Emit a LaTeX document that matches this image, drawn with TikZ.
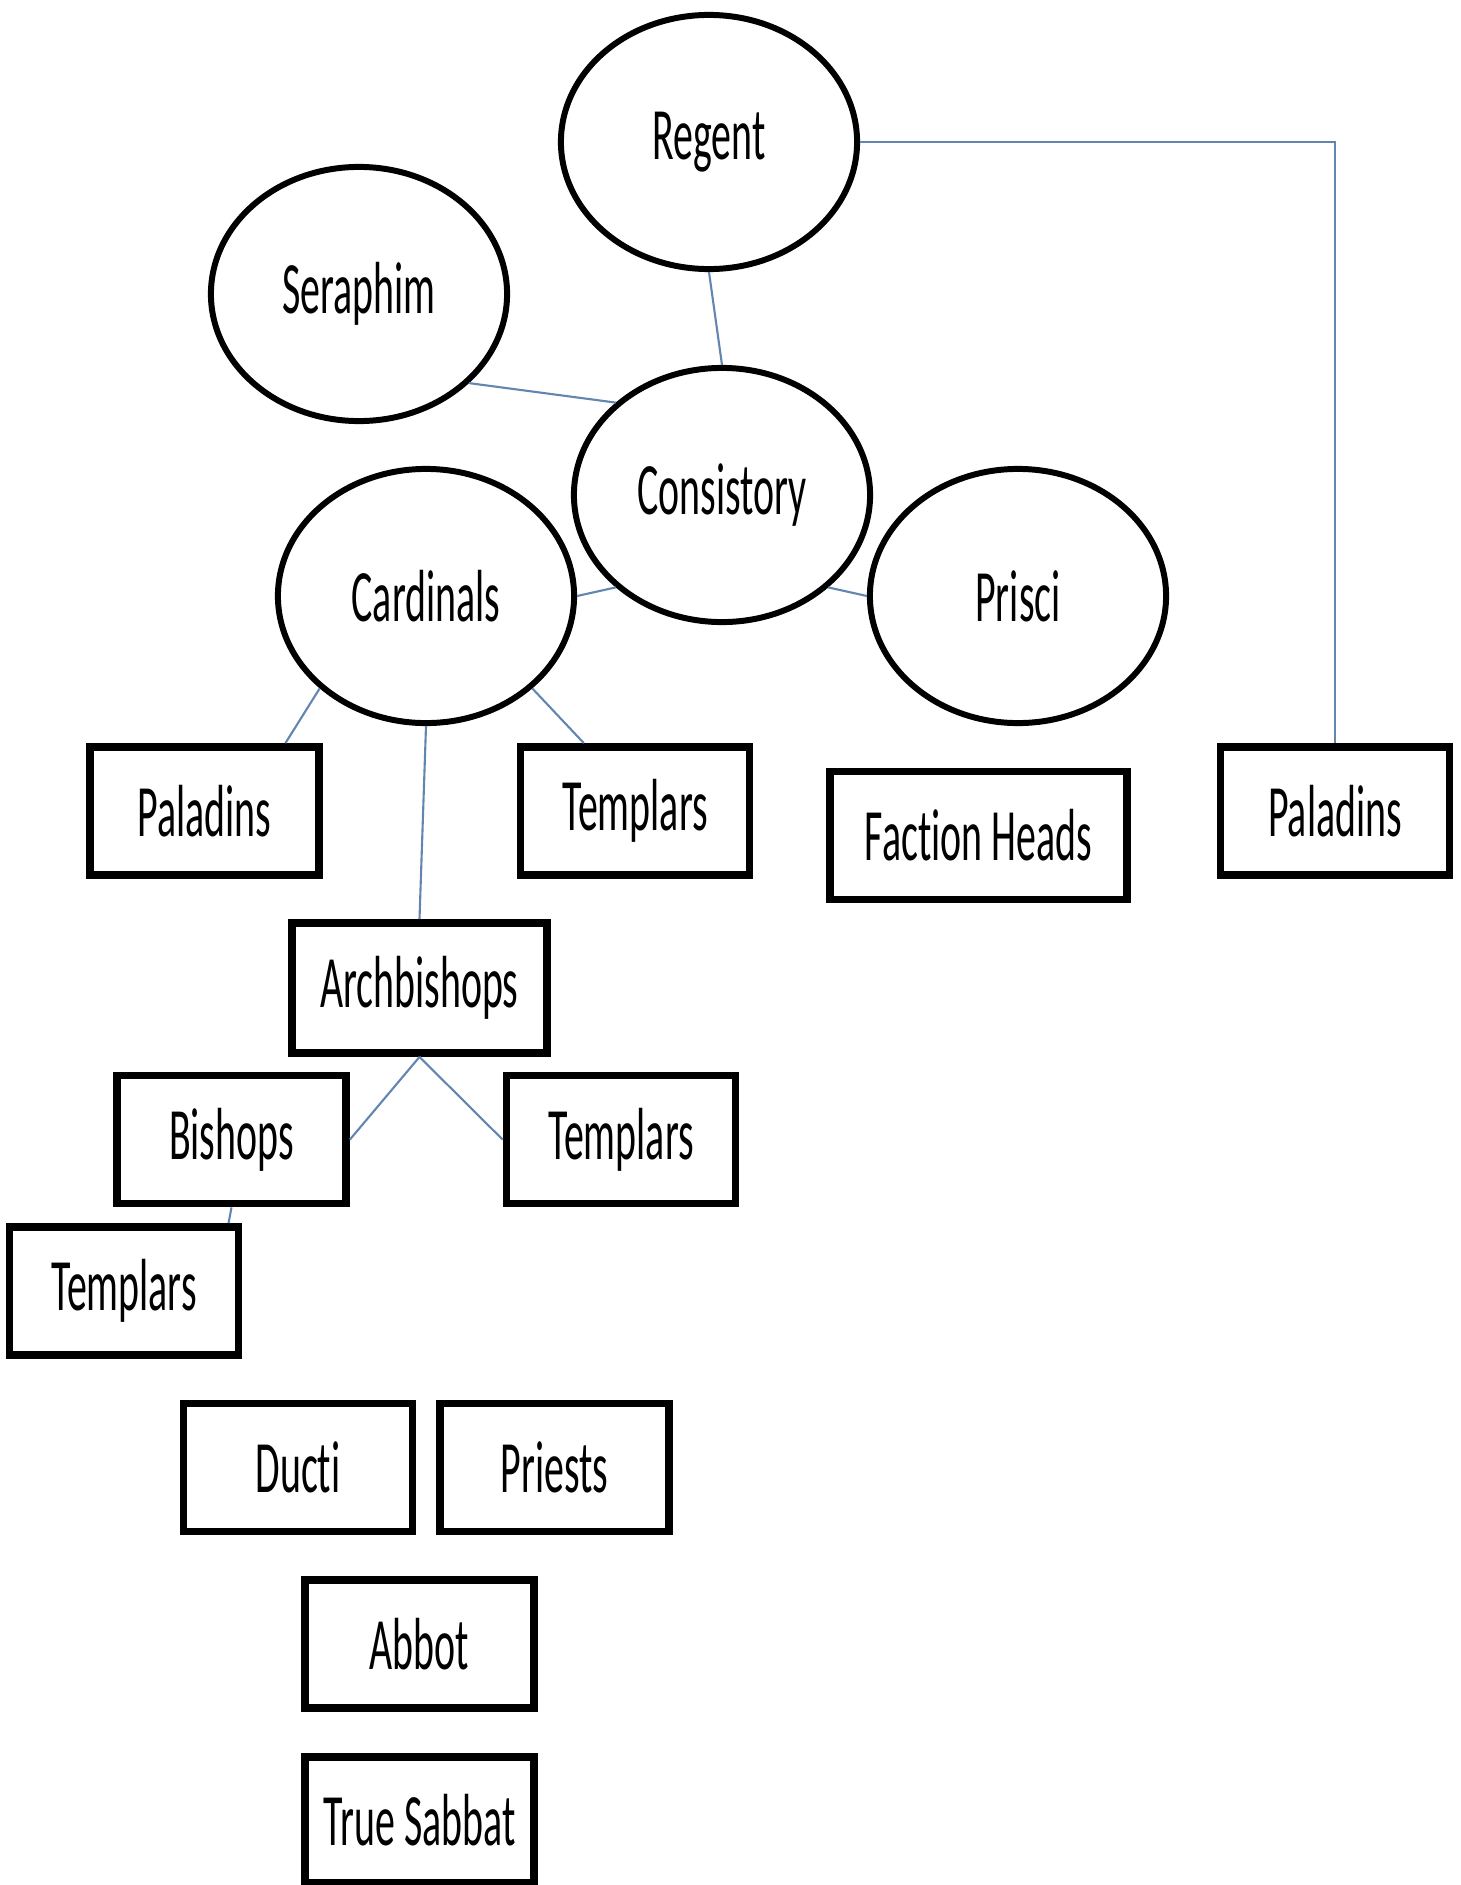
\documentclass[tikz,border=0pt]{standalone}
\usepackage{fontspec}
\usepackage{tikz}
\usetikzlibrary{shapes.geometric}
\newfontfamily\chartfont[FakeStretch=0.54, Ligatures=NoCommon]{Carlito}
\definecolor{linkblue}{RGB}{98,134,176}
\tikzset{
  circ/.style={ellipse, draw, line width=1.7pt, minimum width=2.96cm, minimum height=2.54cm, inner sep=0pt},
  rank/.style={rectangle, draw, line width=2.2pt, minimum width=2.29cm, minimum height=1.28cm, inner sep=0pt},
  link/.style={linkblue, line width=0.6pt}
}
\begin{document}
\begin{tikzpicture}[x=0.01cm, y=-0.01cm, font=\chartfont\fontsize{21}{25}\selectfont]
\useasboundingbox (0,0) rectangle (1461,1885);
\node[circ] (regent) at (709,142) {Regent};
\node[circ] (seraphim) at (359,294) {Seraphim};
\node[circ] (consist) at (722,495) {Consistory};
\node[circ] (cardinals) at (426,596) {Cardinals};
\node[circ] (prisci) at (1018,596) {Prisci};
\node[rank] (pal1) at (204.5,811) {Paladins};
\node[rank] (tmp1) at (635,811) {Templars};
\node[rank, minimum width=2.97cm] (faction) at (978.5,835.5) {Faction Heads};
\node[rank] (pal2) at (1335,811) {Paladins};
\node[rank, minimum width=2.55cm, minimum height=1.3cm] (arch) at (419.5,988) {Archbishops};
\node[rank] (bishops) at (231.5,1139.5) {Bishops};
\node[rank] (tmp2) at (621,1139.5) {Templars};
\node[rank] (tmp3) at (124,1291) {Templars};
\node[rank] (ducti) at (298,1467.5) {Ducti};
\node[rank] (priests) at (554.5,1467.5) {Priests};
\node[rank] (abbot) at (419.5,1644) {Abbot};
\node[rank, minimum height=1.26cm] (truesab) at (419.5,1820) {True Sabbat};
\draw[link] (regent.east) -| (pal2.north);
\draw[link] (regent.south) -- (consist.north);
\draw[link] (seraphim.-39) -- (consist.139);
\draw[link] (cardinals.east) -- (consist.221);
\draw[link] (consist.-41) -- (prisci.west);
\draw[link] (cardinals.221) -- (pal1.40);
\draw[link] (cardinals.-41) -- (tmp1.127);
\draw[link] (cardinals.south) -- (arch.north);
\draw[link] (arch.south) -- (bishops.east);
\draw[link] (arch.south) -- (tmp2.west);
\draw[link] (bishops.south) -- (tmp3.33);
\end{tikzpicture}
\end{document}
